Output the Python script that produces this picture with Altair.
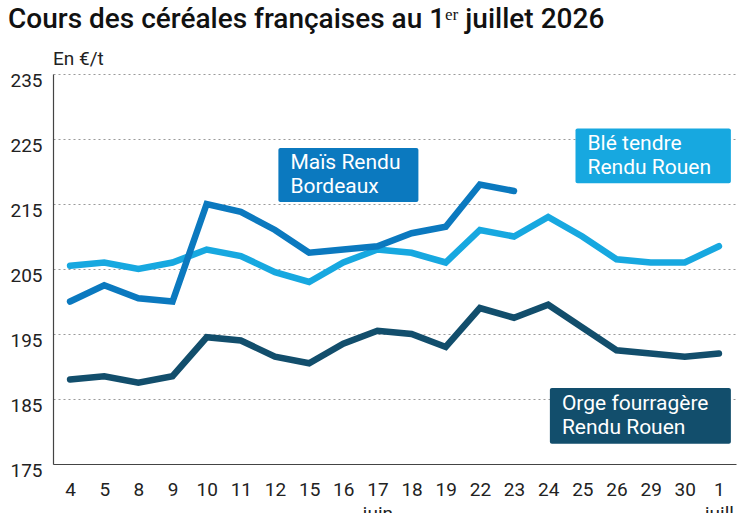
import altair as alt
import pandas as pd

# Trading days (June 4 -> July 1) and the month shown under some of them
days = ["4", "5", "8", "9", "10", "11", "12", "15", "16", "17",
        "18", "19", "22", "23", "24", "25", "26", "29", "30", "1"]
months = ["", "", "", "", "", "", "", "", "", "juin",
          "", "", "", "", "", "", "", "", "", "juill"]

# Prices in €/t
ble = [205.5, 206, 205, 206, 208, 207, 204.5, 203, 206, 208,
       207.5, 206, 211, 210, 213, 210, 206.5, 206, 206, 208.5]
mais = [200, 202.5, 200.5, 200, 215, 213.8, 211, 207.5, 208, 208.5,
        210.5, 211.5, 218, 217]
orge = [188, 188.5, 187.5, 188.5, 194.5, 194, 191.5, 190.5, 193.5, 195.5,
        195, 193, 199, 197.5, 199.5, 196, 192.5, 192, 191.5, 192]

series = ["Blé tendre Rendu Rouen", "Maïs Rendu Bordeaux", "Orge fourragère Rendu Rouen"]
colors = ["#17a8e0", "#0b79bf", "#124e6c"]
label_lines = ["Blé tendre\nRendu Rouen", "Maïs Rendu\nBordeaux", "Orge fourragère\nRendu Rouen"]

rows = []
for name, vals in zip(series, [ble, mais, orge]):
    for i, v in enumerate(vals):
        rows.append({"serie": name, "idx": i, "prix": v})
df = pd.DataFrame(rows)

# Label boxes, in the chart's own units (day index, €/t)
boxes = pd.DataFrame({
    "serie": series,
    "x0": [14.8, 6.1, 14.05],
    "x1": [19.35, 10.2, 19.35],
    "y0": [226.6, 223.6, 186.7],
    "y1": [218.2, 215.3, 178.1],
    "texte": label_lines,
})
boxes["ym"] = (boxes["y0"] + boxes["y1"]) / 2

FONT = "Roboto"
label_expr = "[" + ",".join(
    "[" + repr(d) + "," + repr(m) + "]" if m else repr(d)
    for d, m in zip(days, months)
) + "][datum.value]"

xscale = alt.Scale(domain=[-0.5, 19.5], nice=False, zero=False)
yscale = alt.Scale(domain=[175, 235], nice=False, zero=False)
color = alt.Color("serie:N", scale=alt.Scale(domain=series, range=colors), legend=None)

x_axis = alt.Axis(
    values=list(range(len(days))), tickCount=len(days), labelExpr=label_expr, title=None,
    grid=False, ticks=False, domainColor="#444", domainWidth=1.2,
    labelFont=FONT, labelFontSize=19, labelColor="#222", labelPadding=16,
    labelLineHeight=24, labelBaseline="top", labelOverlap=False,
    labelFlush=False, zindex=2,
)
y_axis = alt.Axis(
    values=list(range(175, 236, 10)), title=None, ticks=False,
    domainColor="#444", domainWidth=1.2,
    grid=True, gridDash=[2, 3], gridColor="#9a9a9a", gridWidth=1.2,
    labelFont=FONT, labelFontSize=19, labelColor="#222", labelPadding=11,
    labelOffset=6, labelOverlap=False, labelFlush=False,
)

lines = alt.Chart(df).mark_line(strokeWidth=6.5, strokeCap="round", strokeJoin="miter").encode(
    x=alt.X("idx:Q", scale=xscale, axis=x_axis),
    y=alt.Y("prix:Q", scale=yscale, axis=y_axis),
    color=color,
    detail="serie:N",
)

rects = alt.Chart(boxes).mark_rect(cornerRadius=2).encode(
    x=alt.X("x0:Q", scale=xscale, axis=x_axis),
    x2="x1:Q",
    y=alt.Y("y0:Q", scale=yscale, axis=y_axis),
    y2="y1:Q",
    color=color,
)

texts = alt.Chart(boxes).mark_text(
    align="left", baseline="middle", dx=12, dy=-12, font=FONT, fontSize=21,
    color="white", lineBreak="\n", lineHeight=24,
).encode(
    x=alt.X("x0:Q", scale=xscale, axis=x_axis),
    y=alt.Y("ym:Q", scale=yscale, axis=y_axis),
    text="texte:N",
)

title = alt.Chart(pd.DataFrame({"t": ["Cours des céréales françaises au 1ᵉʳ juillet 2026"]})).mark_text(
    align="left", baseline="alphabetic", font=FONT, fontSize=28, fontWeight=500, color="#111",
).encode(x=alt.value(-45), y=alt.value(-46), text="t:N")

unit = alt.Chart(pd.DataFrame({"t": ["En €/t"]})).mark_text(
    align="left", baseline="alphabetic", font=FONT, fontSize=19, color="#222",
).encode(x=alt.value(0), y=alt.value(-9), text="t:N")

chart = alt.layer(lines, rects, texts, title, unit).properties(
    width=683, height=390,
    autosize=alt.AutoSizeParams(type="none"),
    padding={"left": 53, "top": 74, "right": 11, "bottom": 49},
).configure_view(stroke=None)

chart.save("out.html", embed_options={"renderer": "svg", "actions": False})
